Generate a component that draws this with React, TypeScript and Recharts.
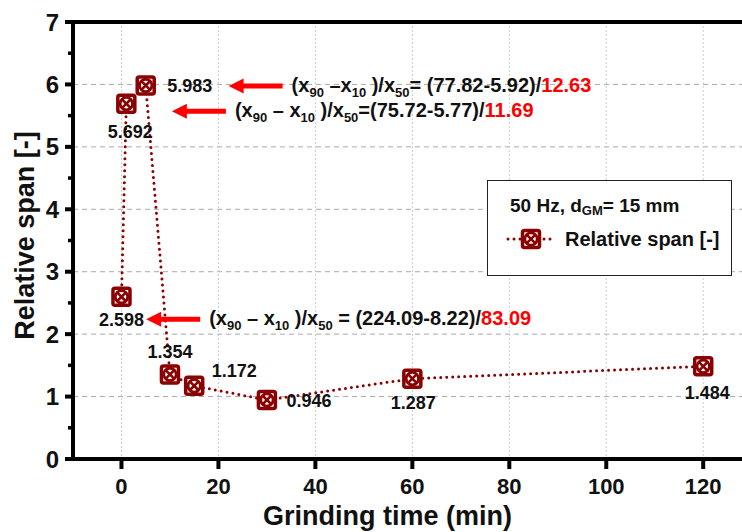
import {
  LineChart,
  Line,
  XAxis,
  YAxis,
  CartesianGrid,
  ReferenceLine,
  ReferenceDot,
  LabelList,
  Legend,
} from 'recharts';

const TIMES = [0, 1, 5, 10, 15, 30, 60, 120];
const SPAN = [2.598, 5.692, 5.983, 1.354, 1.172, 0.946, 1.287, 1.484];
const X_TICKS = [0, 20, 40, 60, 80, 100, 120];
const Y_TICKS = [0, 0.5, 1, 1.5, 2, 2.5, 3, 3.5, 4, 4.5, 5, 5.5, 6, 6.5, 7];
const GRID_Y = [1, 2, 3, 4, 5, 6];

// where each value label sits relative to its marker
const LABEL_OFFSETS: [number, number][] = [
  [0, 23], [4, 28], [44, 1], [0, -22], [40, -15], [42, 1], [1, 24], [4, 27],
];

// red arrows: tip position in data units, then the formula text
const ANNOT_X = [22.1, 10.4, 5.1];
const ANNOT_Y = [5.975, 5.57, 2.24];
const ANNOT_MINUS = [' \u2013x', ' \u2013 x', ' \u2013 x'];
const ANNOT_EQ = ['= ', '=', ' = '];
const ANNOT_NUM = ['(77.82-5.92)/', '(75.72-5.77)/', '(224.09-8.22)/'];
const ANNOT_RATIO = ['12.63', '11.69', '83.09'];

const DARK_RED = '#8B0000';
const FONT = "'Liberation Sans', Arial, sans-serif";

const data = TIMES.map((t, i) => ({ time: t, span: SPAN[i] }));

function SpanMarker({ cx, cy }: { cx: number; cy: number }) {
  return (
    <g>
      <rect x={cx - 8.5} y={cy - 8.5} width={17} height={17} rx={2} fill="#fff" stroke={DARK_RED} strokeWidth={3.5} />
      <circle cx={cx} cy={cy} r={6.2} fill="none" stroke={DARK_RED} strokeWidth={2.8} />
      <line x1={cx - 4.2} y1={cy - 4.2} x2={cx + 4.2} y2={cy + 4.2} stroke={DARK_RED} strokeWidth={2.6} />
      <line x1={cx - 4.2} y1={cy + 4.2} x2={cx + 4.2} y2={cy - 4.2} stroke={DARK_RED} strokeWidth={2.6} />
    </g>
  );
}

function Annotation(props: any) {
  const { cx, cy, index } = props;
  const x0 = cx + 54;
  return (
    <g>
      <line x1={cx + 10} y1={cy} x2={x0} y2={cy} stroke="#ff0000" strokeWidth={5} />
      <polygon points={`${cx},${cy} ${cx + 15},${cy - 7.5} ${cx + 15},${cy + 7.5}`} fill="#ff0000" />
      <text x={x0 + 9} y={cy + 6} fontFamily={FONT} fontWeight="bold" fontSize={20} fill="#111">
        <tspan>(x</tspan>
        <tspan dy={5} fontSize={13}>90</tspan>
        <tspan dy={-5}>{ANNOT_MINUS[index]}</tspan>
        <tspan dy={5} fontSize={13}>10</tspan>
        <tspan dy={-5}> )/x</tspan>
        <tspan dy={5} fontSize={13}>50</tspan>
        <tspan dy={-5}>{ANNOT_EQ[index] + ANNOT_NUM[index]}</tspan>
        <tspan fill="#ff0000">{ANNOT_RATIO[index]}</tspan>
      </text>
    </g>
  );
}

function XTick(props: any) {
  const { x, y, payload } = props;
  return (
    <g>
      <line x1={x} x2={x} y1={y} y2={y + 10} stroke="#000" strokeWidth={4} />
      <text x={x} y={y + 27} textAnchor="middle" dominantBaseline="central" fontFamily={FONT} fontWeight="bold" fontSize={22} fill="#111">
        {payload.value}
      </text>
    </g>
  );
}

function YTick(props: any) {
  const { x, y, payload } = props;
  const major = Number.isInteger(payload.value);
  return (
    <g>
      <line x1={x - (major ? 8 : 5)} x2={x} y1={y} y2={y} stroke="#000" strokeWidth={major ? 4 : 3.5} />
      {major ? (
        <text x={x - 14} y={y} textAnchor="end" dominantBaseline="central" fontFamily={FONT} fontWeight="bold" fontSize={24} fill="#111">
          {payload.value}
        </text>
      ) : null}
    </g>
  );
}

function ValueLabel(props: any) {
  const { x, y, value, index } = props;
  const [dx, dy] = LABEL_OFFSETS[index];
  return (
    <text x={x + dx} y={y + dy} textAnchor="middle" dominantBaseline="central" fontFamily={FONT} fontWeight="bold" fontSize={18} fill="#111">
      {Number(value).toFixed(3)}
    </text>
  );
}

function LegendBox() {
  return (
    <div style={{ width: 245, height: 96, boxSizing: 'border-box', border: '1.5px solid #222', background: '#fff' }}>
      <svg width={242} height={93}>
        <text x={22} y={24} dominantBaseline="central" fontFamily={FONT} fontWeight="bold" fontSize={19} fill="#111">
          50 Hz, d
          <tspan dy={5} fontSize={13}>GM</tspan>
          <tspan dy={-5}>= 15 mm</tspan>
        </text>
        <line x1={20} x2={68} y1={58} y2={58} stroke={DARK_RED} strokeWidth={3} strokeDasharray="0 6" strokeLinecap="round" />
        <SpanMarker cx={43} cy={58} />
        <text x={77} y={58} dominantBaseline="central" fontFamily={FONT} fontWeight="bold" fontSize={20} fill="#111">
          Relative span [-]
        </text>
      </svg>
    </div>
  );
}

export default function App() {
  return (
    <div style={{ position: 'absolute', left: 0, top: 0, background: '#fff' }}>
      <LineChart width={742} height={532} data={data} margin={{ top: 22, right: 0, bottom: 0, left: 0 }}>
        <CartesianGrid vertical={false} horizontalValues={GRID_Y} stroke="#aaa" strokeDasharray="5 4" />
        <CartesianGrid horizontal={false} verticalValues={X_TICKS} stroke="#ccc" strokeDasharray="2 2" />
        <XAxis
          type="number"
          dataKey="time"
          domain={[-10, 128]}
          ticks={X_TICKS}
          interval={0}
          height={73}
          tickSize={0}
          tickMargin={0}
          tickLine={false}
          tick={<XTick />}
          axisLine={{ stroke: '#000', strokeWidth: 4 }}
          label={{
            content: ({ viewBox }: any) => (
              <text
                x={viewBox.x + viewBox.width / 2 - 20}
                y={viewBox.y + 57}
                textAnchor="middle"
                dominantBaseline="central"
                fontFamily={FONT}
                fontWeight="bold"
                fontSize={27}
                fill="#111"
              >
                Grinding time (min)
              </text>
            ),
          }}
        />
        <YAxis
          type="number"
          domain={[0, 7]}
          ticks={Y_TICKS}
          interval={0}
          width={73}
          tickSize={0}
          tickMargin={0}
          tickLine={false}
          tick={<YTick />}
          axisLine={{ stroke: '#000', strokeWidth: 4 }}
          label={{
            content: ({ viewBox }: any) => {
              const cy = viewBox.y + viewBox.height / 2 - 5;
              return (
                <text
                  x={25}
                  y={cy}
                  transform={`rotate(-90, 25, ${cy})`}
                  textAnchor="middle"
                  dominantBaseline="central"
                  fontFamily={FONT}
                  fontWeight="bold"
                  fontSize={27}
                  fill="#111"
                >
                  Relative span [-]
                </text>
              );
            },
          }}
        />
        <ReferenceLine y={7} stroke="#000" strokeWidth={4} />
        <Legend
          layout="horizontal"
          verticalAlign="middle"
          align="center"
          content={() => <LegendBox />}
          wrapperStyle={{ left: 487, top: 180, width: 245, height: 96 }}
        />
        <Line
          type="linear"
          dataKey="span"
          stroke={DARK_RED}
          strokeWidth={3}
          strokeDasharray="0 6"
          strokeLinecap="round"
          dot={(p: any) => <SpanMarker key={p.index} cx={p.cx} cy={p.cy} />}
          isAnimationActive={false}
        >
          <LabelList dataKey="span" content={<ValueLabel />} />
        </Line>
        {ANNOT_X.map((ax, i) => (
          <ReferenceDot
            key={i}
            x={ax}
            y={ANNOT_Y[i]}
            ifOverflow="visible"
            shape={(p: any) => <Annotation {...p} index={i} />}
          />
        ))}
      </LineChart>
    </div>
  );
}
